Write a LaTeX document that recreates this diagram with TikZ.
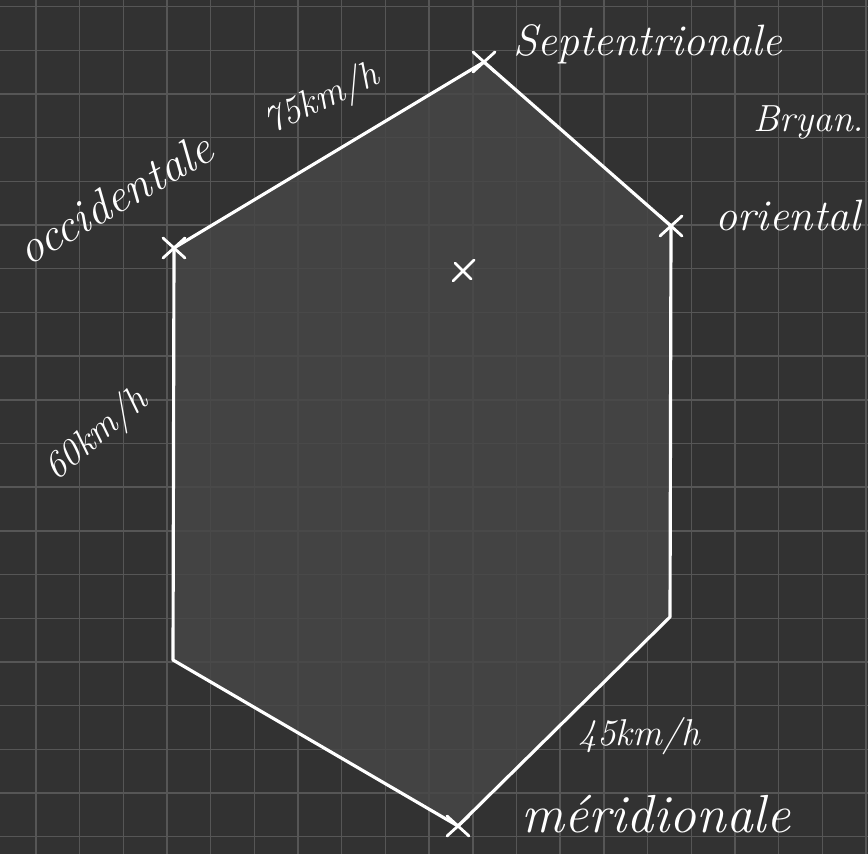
\documentclass[tikz,border=0pt]{standalone}
\usepackage{xcolor}
\definecolor{board}{HTML}{323232}
\definecolor{gridline}{HTML}{565656}
\definecolor{zone}{HTML}{474747}
\tikzset{
  chalk/.style={white, line width=1.8pt, line cap=round, line join=round},
  vmark/.style={white, line width=1.6pt, line cap=round},
  note/.style={white, font=\fontsize{25}{30}\selectfont\itshape, inner sep=0pt}
}
\begin{document}
\begin{tikzpicture}[x=0.02cm, y=-0.02cm]
            \fill[board] (0,0) rectangle (868,854);
            \useasboundingbox (0,0) rectangle (868,854);
            % grid
            \foreach \i in {0,...,19} {
              \draw[gridline, line width=0.8pt] ({36+43.68*\i},0) -- ({36+43.68*\i},854);
              \draw[gridline, line width=0.8pt] (0,{6.7+43.68*\i}) -- (868,{6.7+43.68*\i});
            }
            % hexagon
            \coordinate (nord) at (484,62);
            \coordinate (est) at (671,226);
            \coordinate (sudest) at (670,617);
            \coordinate (sud) at (458,826);
            \coordinate (sudouest) at (173,660);
            \coordinate (ouest) at (174,248);
            \coordinate (centre) at (463,271);
            \fill[zone, opacity=0.85] (nord) -- (est) -- (sudest) -- (sud) -- (sudouest) -- (ouest) -- cycle;
            \draw[chalk] (nord) -- (est) -- (sudest) -- (sud) -- (sudouest) -- (ouest) -- cycle;
            % crosses
            \foreach \p in {nord, est, sud, ouest} {
              \draw[vmark] (\p) +(-11,-10) -- +(11,10) +(-11,10) -- +(11,-10);
            }
            \draw[vmark] (centre) +(-10,10) -- +(11,-11) +(-8,-8) -- +(8,8);
            % labels
            \node[note] (septentrion) at (648,44) {Septentrionale};
            \node[note, scale=0.86] (bryan) at (809,122) {Bryan.};
            \node[note] (orient) at (788,215) {oriental};
            \node[note, scale=1.07, rotate=30] (occident) at (115,198) {occidentale};
            \node[note, scale=0.85, rotate=25] (vitnord) at (322,100) {75km/h};
            \node[note, scale=0.85, rotate=40] (vitouest) at (97,435) {60km/h};
            \node[note, scale=0.85] (vitsud) at (639,736) {45km/h};
            \node[note, scale=1.22] (meridien) at (656,814) {méridionale};
        \end{tikzpicture}
\end{document}
